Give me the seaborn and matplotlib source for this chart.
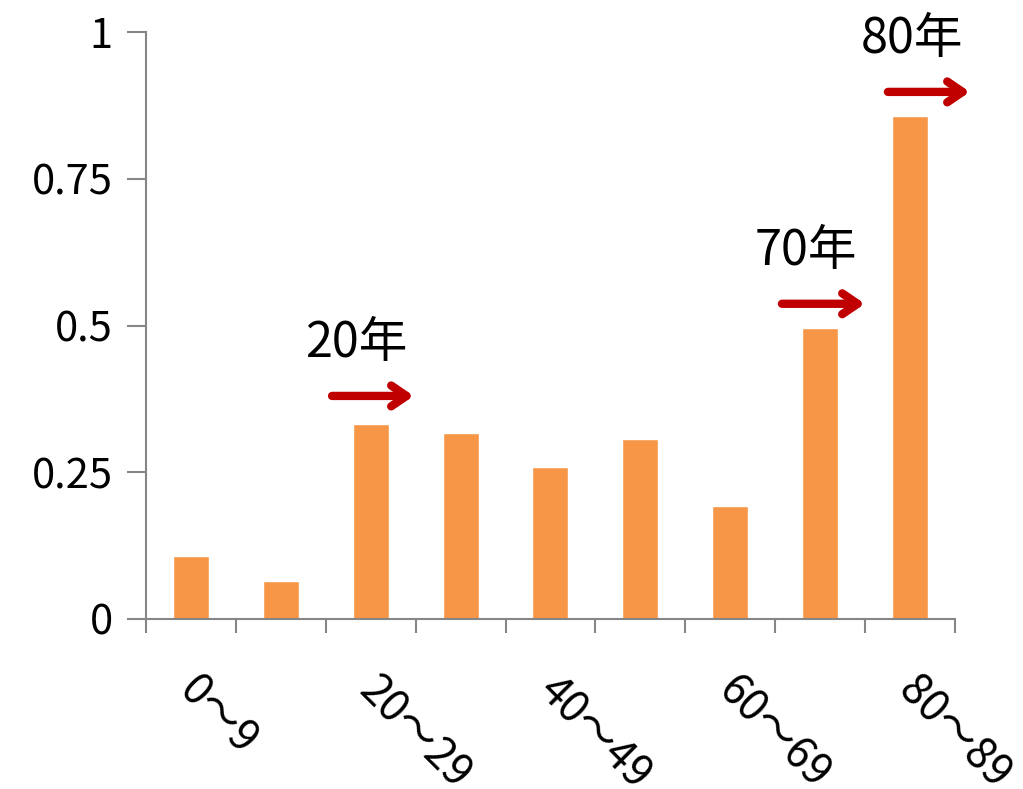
import matplotlib
matplotlib.use("Agg")
import matplotlib.pyplot as plt
import matplotlib.transforms as mtransforms
import seaborn as sns
import pandas as pd

# Age bands and their values
age_bands = ["0〜9", "10〜19", "20〜29", "30〜39", "40〜49",
             "50〜59", "60〜69", "70〜79", "80〜89"]
values = [0.107, 0.065, 0.332, 0.317, 0.259, 0.307, 0.193, 0.496, 0.857]
y_ticks = [0, 0.25, 0.5, 0.75, 1]
y_tick_labels = ["0", "0.25", "0.5", "0.75", "1"]

# Year markers: label, arrow start/end (category units), arrow height
marker_labels = ["20年", "70年", "80年"]
marker_x0 = [1.57, 6.575, 7.754]
marker_x1 = [2.48, 7.498, 8.666]
marker_y = [0.380, 0.537, 0.898]

sns.set_style("white")
plt.rcParams["font.family"] = ["Noto Sans CJK JP", "DejaVu Sans"]
plt.rcParams["text.color"] = "black"
plt.rcParams["xtick.labelcolor"] = "black"
plt.rcParams["ytick.labelcolor"] = "black"

df = pd.DataFrame({"band": age_bands, "value": values})

fig = plt.figure(figsize=(10.23, 7.89), dpi=100)
ax = fig.add_axes([0.1427, 0.2155, 0.7908, 0.7439])

sns.barplot(data=df, x="band", y="value", color="#F79646", width=0.4,
            saturation=1, ax=ax)

ax.set_xlim(-0.5, len(age_bands) - 0.5)
ax.set_ylim(0, 1)
ax.set_xlabel("")
ax.set_ylabel("")

axis_color = "#868686"
for side in ["top", "right"]:
    ax.spines[side].set_visible(False)
for side in ["left", "bottom"]:
    ax.spines[side].set_color(axis_color)
    ax.spines[side].set_linewidth(1.5)

ax.set_yticks(y_ticks)
ax.set_yticklabels(y_tick_labels, fontsize=30)
ax.tick_params(axis="y", direction="out", length=14, width=1.5,
               color=axis_color, left=True, pad=10)

# Category labels (every other band), tick marks on band boundaries
ax.set_xticks(range(len(age_bands)))
ax.set_xticklabels([b if i % 2 == 0 else "" for i, b in enumerate(age_bands)],
                   fontsize=31, rotation=-45, ha="left", va="top",
                   rotation_mode="anchor")
ax.tick_params(axis="x", which="major", length=0, pad=36)
shift = mtransforms.ScaledTranslation(0.10, 0, fig.dpi_scale_trans)
for lbl in ax.get_xticklabels():
    lbl.set_transform(lbl.get_transform() + shift)
ax.set_xticks([i - 0.5 for i in range(len(age_bands) + 1)], minor=True)
ax.tick_params(axis="x", which="minor", direction="out", length=10,
               width=1.5, color=axis_color, bottom=True)

for lab, x0, x1, y in zip(marker_labels, marker_x0, marker_x1, marker_y):
    ax.annotate("", xy=(x1, y), xytext=(x0, y), annotation_clip=False,
                arrowprops=dict(arrowstyle="->,head_length=1.1,head_width=0.75",
                                color="#C00000", lw=6, capstyle="round",
                                joinstyle="round", shrinkA=0, shrinkB=0))
    ax.text(x0 - 0.3, y + 0.09, lab, fontsize=35, ha="left", va="center",
            clip_on=False)

fig.savefig("out.png", dpi=100)
